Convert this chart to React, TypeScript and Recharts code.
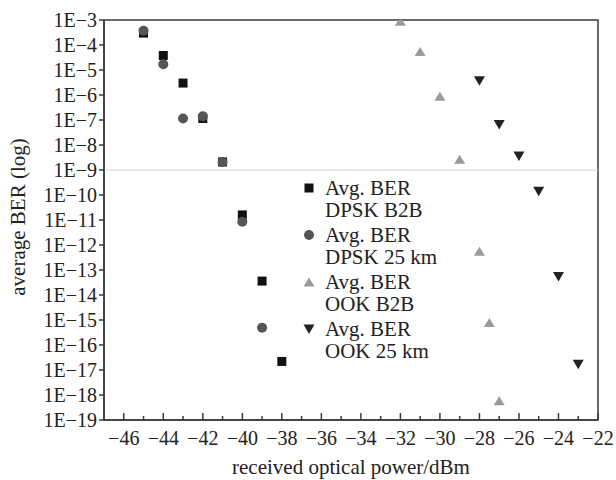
import React from "react";
import {
  ScatterChart,
  Scatter,
  XAxis,
  YAxis,
  ReferenceLine,
  ReferenceArea,
  Legend,
} from "recharts";

// received optical power (dBm) and average BER for each measurement set
const dpskB2bPower = [-45, -44, -43, -42, -41, -40, -39, -38];
const dpskB2bBer = [3e-4, 3.8e-5, 3e-6, 1.15e-7, 2.1e-9, 1.6e-11, 3.6e-14, 2.2e-17];

const dpsk25Power = [-45, -44, -43, -42, -41, -40, -39];
const dpsk25Ber = [3.7e-4, 1.7e-5, 1.15e-7, 1.4e-7, 2.1e-9, 8.5e-12, 4.9e-16];

const ookB2bPower = [-32, -31, -30, -29, -28, -27.5, -27];
const ookB2bBer = [9e-4, 5.5e-5, 8.9e-7, 2.7e-9, 5.6e-13, 8e-16, 5.9e-19];

const ook25Power = [-28, -27, -26, -25, -24, -23];
const ook25Ber = [3.7e-6, 6.6e-8, 3.6e-9, 1.4e-10, 5.5e-14, 1.7e-17];

const xTicks = [
  -46, -45, -44, -43, -42, -41, -40, -39, -38, -37, -36, -35, -34, -33, -32,
  -31, -30, -29, -28, -27, -26, -25, -24, -23, -22,
];
const yTicks = [
  1e-3, 1e-4, 1e-5, 1e-6, 1e-7, 1e-8, 1e-9, 1e-10, 1e-11, 1e-12, 1e-13, 1e-14,
  1e-15, 1e-16, 1e-17, 1e-18, 1e-19,
];
const fecLimit = 1e-9;

const AXIS = "#3a3a3a";
const FONT = '"Liberation Serif", "Times New Roman", serif';

function toPoints(xs: number[], ys: number[]) {
  return xs.map((x, i) => ({ x, y: ys[i] }));
}

function yLabel(v: number) {
  return `1E\u2212${Math.round(-Math.log10(v))}`;
}

function Marker({ kind, cx, cy, color }: { kind: string; cx: number; cy: number; color: string }) {
  if (kind === "square") {
    return <rect x={cx - 4.5} y={cy - 4.5} width={9} height={9} fill={color} />;
  }
  if (kind === "circle") {
    return <circle cx={cx} cy={cy} r={5} fill={color} />;
  }
  if (kind === "up") {
    return <polygon points={`${cx - 5.5},${cy + 4.5} ${cx + 5.5},${cy + 4.5} ${cx},${cy - 4.5}`} fill={color} />;
  }
  return <polygon points={`${cx - 5.5},${cy - 4.5} ${cx + 5.5},${cy - 4.5} ${cx},${cy + 5}`} fill={color} />;
}

const series = [
  { key: "dpskB2b", line2: "DPSK B2B", kind: "square", color: "#111111", data: toPoints(dpskB2bPower, dpskB2bBer) },
  { key: "dpsk25", line2: "DPSK 25 km", kind: "circle", color: "#555555", data: toPoints(dpsk25Power, dpsk25Ber) },
  { key: "ookB2b", line2: "OOK B2B", kind: "up", color: "#9a9a9a", data: toPoints(ookB2bPower, ookB2bBer) },
  { key: "ook25", line2: "OOK 25 km", kind: "down", color: "#222222", data: toPoints(ook25Power, ook25Ber) },
];

function XTick(props: any) {
  const { x, y, payload } = props;
  const major = payload.value % 2 === 0;
  return (
    <g>
      <line x1={x} x2={x} y1={y} y2={y - (major ? 7 : 4)} stroke={AXIS} strokeWidth={1.5} />
      {major && (
        <text x={x} y={y + 25} textAnchor="middle" fontSize={20} fill="#222" fontFamily={FONT}>
          {`\u2212${Math.abs(payload.value)}`}
        </text>
      )}
    </g>
  );
}

function LegendBox() {
  return (
    <div style={{ fontFamily: FONT, fontSize: 21, color: "#222", lineHeight: "22px" }}>
      {series.map((s) => (
        <div key={s.key} style={{ display: "flex", marginBottom: 3 }}>
          <svg width={27} height={22} style={{ flex: "none" }}>
            <Marker kind={s.kind} cx={11} cy={11} color={s.color} />
          </svg>
          <div>
            <div>Avg. BER</div>
            <div>{s.line2}</div>
          </div>
        </div>
      ))}
    </div>
  );
}

export default function App() {
  return (
    <div style={{ position: "absolute", left: 0, top: 0, width: 616, height: 480, background: "#fff" }}>
      <ScatterChart
        width={616}
        height={480}
        margin={{ top: 20, right: 18, bottom: 0, left: 0 }}
        style={{ fontFamily: FONT }}
      >
        <XAxis
          type="number"
          dataKey="x"
          domain={[-47, -22]}
          ticks={xTicks}
          interval={0}
          height={60}
          tickLine={false}
          tickSize={0}
          tickMargin={0}
          tick={<XTick />}
          axisLine={{ stroke: AXIS, strokeWidth: 1.5 }}
          label={{
            content: (p: any) => {
              const vb = p.viewBox;
              return (
                <text x={vb.x + vb.width / 2} y={vb.y + 54} textAnchor="middle" fontSize={21} fill="#222" fontFamily={FONT}>
                  received optical power/dBm
                </text>
              );
            },
          }}
        />
        <YAxis
          type="number"
          dataKey="y"
          scale="log"
          domain={[1e-19, 1e-3]}
          allowDataOverflow
          ticks={yTicks}
          interval={0}
          width={104}
          tickSize={5}
          tickMargin={2}
          tickFormatter={yLabel}
          tick={{ fill: "#222", fontSize: 20, fontFamily: FONT }}
          tickLine={{ stroke: AXIS, strokeWidth: 1.5 }}
          axisLine={{ stroke: AXIS, strokeWidth: 1.5 }}
          label={{
            content: (p: any) => {
              const vb = p.viewBox;
              const cx = vb.x + 18;
              const cy = vb.y + vb.height / 2 - 3;
              return (
                <text
                  x={cx}
                  y={cy}
                  transform={`rotate(-90 ${cx} ${cy})`}
                  textAnchor="middle"
                  dominantBaseline="central"
                  fontSize={21}
                  fill="#222"
                  fontFamily={FONT}
                >
                  average BER (log)
                </text>
              );
            },
          }}
        />
        <ReferenceArea x1={-47} x2={-22} y1={1e-19} y2={1e-3} fill="none" stroke={AXIS} strokeWidth={1.5} />
        <ReferenceLine y={fecLimit} stroke="#cfcfcf" strokeWidth={1} />
        {series.map((s) => (
          <Scatter
            key={s.key}
            name={s.line2}
            data={s.data}
            isAnimationActive={false}
            shape={(p: any) => <Marker kind={s.kind} cx={p.cx} cy={p.cy} color={s.color} />}
          />
        ))}
        <Legend
          layout="vertical"
          align="center"
          verticalAlign="middle"
          wrapperStyle={{ left: 298, top: 177, width: 170, height: "auto" }}
          content={() => <LegendBox />}
        />
      </ScatterChart>
    </div>
  );
}
